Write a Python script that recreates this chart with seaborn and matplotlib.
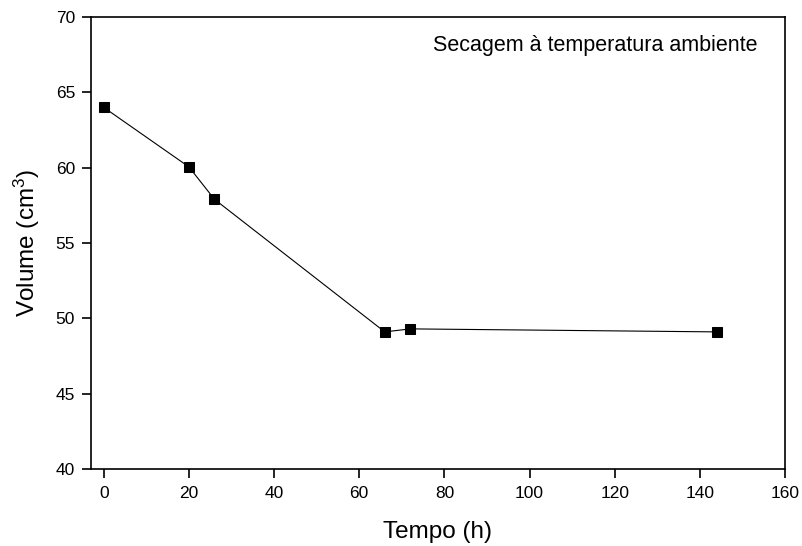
import matplotlib
matplotlib.use("Agg")
import matplotlib.pyplot as plt
import seaborn as sns
import pandas as pd

tempo = [0, 20, 26, 66, 72, 144]
volume = [64.0, 60.05, 57.9, 49.1, 49.3, 49.1]
xticks = [0, 20, 40, 60, 80, 100, 120, 140, 160]
yticks = [40, 45, 50, 55, 60, 65, 70]

sns.set_style("ticks")
plt.rcParams['font.family'] = ['Liberation Sans', 'DejaVu Sans']
plt.rcParams['mathtext.fontset'] = 'custom'
plt.rcParams['mathtext.rm'] = 'Liberation Sans'
plt.rcParams['mathtext.it'] = 'Liberation Sans:italic'
plt.rcParams['mathtext.bf'] = 'Liberation Sans:bold'
plt.rcParams['text.color'] = 'black'
plt.rcParams['axes.labelcolor'] = 'black'
plt.rcParams['xtick.color'] = 'black'
plt.rcParams['ytick.color'] = 'black'

df = pd.DataFrame({"Tempo": tempo, "Volume": volume})

fig = plt.figure(figsize=(8.03, 5.46), dpi=100)
ax = fig.add_axes([91/803, 1 - 469/546, (785-91)/803, (469-17)/546])

sns.lineplot(data=df, x="Tempo", y="Volume", ax=ax, color="black", linewidth=0.8,
             marker="s", markersize=7, markeredgecolor="black", markerfacecolor="black",
             estimator=None, sort=False)

ax.set_xlim(-3, 160)
ax.set_ylim(40, 70)
ax.set_xticks(xticks)
ax.set_yticks(yticks)
ax.tick_params(axis="both", direction="out", length=6.5, width=1.2, labelsize=12.5,
               top=False, right=False, color="black", labelcolor="black")
ax.tick_params(axis="x", pad=6)
ax.tick_params(axis="y", pad=5)
for s in ax.spines.values():
    s.set_linewidth(1.2)
    s.set_color("black")
    s.set_visible(True)

ax.set_xlabel("Tempo (h)", fontsize=17.5, labelpad=14)
ax.set_ylabel("Volume (cm$^{3}$)", fontsize=17.5, labelpad=10)
ax.text(0.96, 0.938, "Secagem à temperatura ambiente", transform=ax.transAxes,
        ha="right", va="center", fontsize=15.5)

fig.savefig("out.png", dpi=100)
